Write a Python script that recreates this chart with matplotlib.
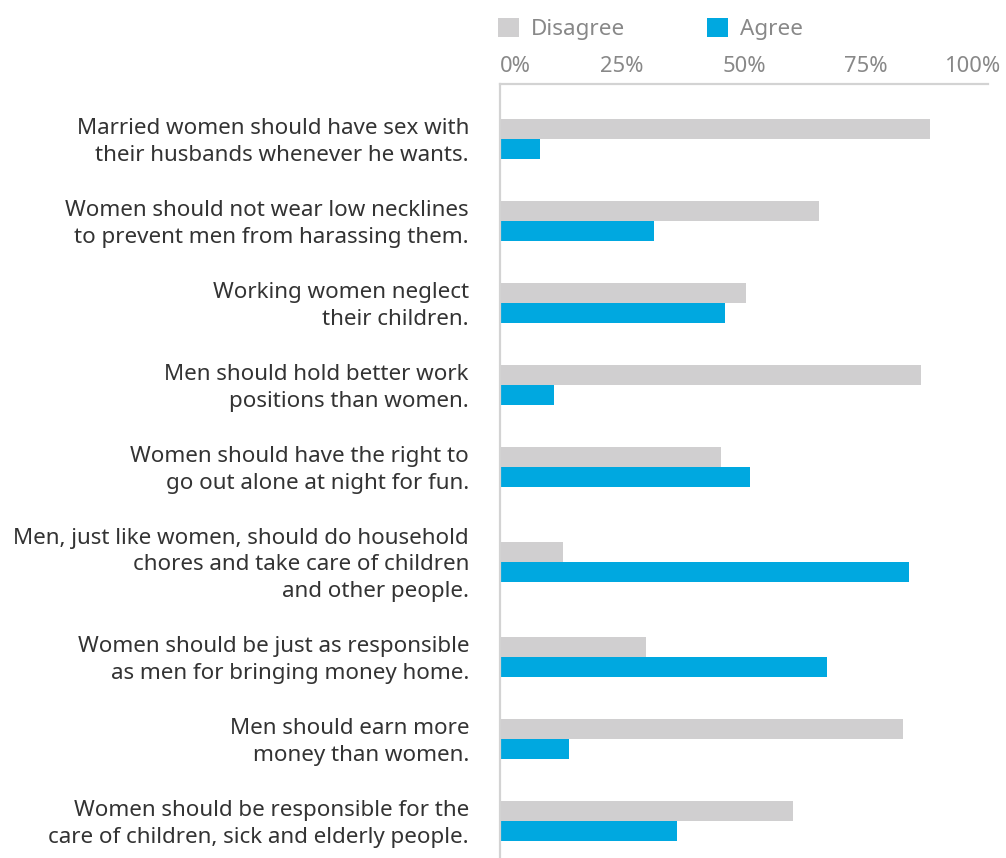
import matplotlib
matplotlib.use("Agg")
import matplotlib.pyplot as plt
from matplotlib.patches import Patch
import matplotlib.transforms as mtransforms

plt.rcParams['font.family'] = ['Noto Sans', 'DejaVu Sans']

categories = [
    "Married women should have sex with\ntheir husbands whenever he wants.",
    "Women should not wear low necklines\nto prevent men from harassing them.",
    "Working women neglect\ntheir children.",
    "Men should hold better work\npositions than women.",
    "Women should have the right to\ngo out alone at night for fun.",
    "Men, just like women, should do household\nchores and take care of children\nand other people.",
    "Women should be just as responsible\nas men for bringing money home.",
    "Men should earn more\nmoney than women.",
    "Women should be responsible for the\ncare of children, sick and elderly people.",
]
disagree = [88.1, 65.4, 50.4, 86.3, 45.3, 12.9, 29.9, 82.6, 60.0]
agree = [8.2, 31.6, 46.1, 11.1, 51.2, 83.8, 67.0, 14.1, 36.3]
xticks = [0, 25, 50, 75, 100]
xticklabels = ["0%", "25%", "50%", "75%", "100%"]
series_names = ["Disagree", "Agree"]

GREY = "#d0cfd0"
BLUE = "#00a8e0"
AXIS = "#d3d3d3"
TEXT = "#333333"
TICK = "#888888"

W, H = 1006, 858
fig = plt.figure(figsize=(W / 100, H / 100), dpi=100)
ax_top_px = 84
ax = fig.add_axes([500 / W, 0, 488 / W, (H - ax_top_px) / H])

# layout: row centers in pixel-like units, spacing depends on number of label lines
base_gap = 82
half_line = 13
centers = []
y = 55
for i, c in enumerate(categories):
    if i > 0:
        nprev = categories[i - 1].count("\n") + 1
        ncur = c.count("\n") + 1
        y += base_gap + (nprev + ncur - 4) * half_line
    centers.append(y)

bh = 20
ax.barh([c - bh / 2 for c in centers], disagree, height=bh, color=GREY, linewidth=0)
ax.barh([c + bh / 2 for c in centers], agree, height=bh, color=BLUE, linewidth=0)

ax.set_xlim(0, 100)
ax.set_ylim(H - ax_top_px, 0)

label_shift = mtransforms.ScaledTranslation(0, -3 / 100, fig.dpi_scale_trans)
for c, lab in zip(centers, categories):
    ax.text(-31 / 488, c, lab, transform=ax.get_yaxis_transform() + label_shift,
            ha='right', va='center', multialignment='right', fontsize=16.1,
            color=TEXT, linespacing=1.32)

ax.xaxis.tick_top()
ax.set_xticks(xticks)
ax.set_xticklabels(xticklabels)
ax.tick_params(axis='x', length=0, pad=5, labelsize=15.8, labelcolor=TICK)
ax.set_yticks([])
labels = ax.get_xticklabels()
labels[0].set_horizontalalignment('left')
labels[-1].set_horizontalalignment('right')
labels[-1].set_transform(labels[-1].get_transform() +
                         mtransforms.ScaledTranslation(13 / 100, 0, fig.dpi_scale_trans))

for s in ['right', 'bottom']:
    ax.spines[s].set_visible(False)
for s in ['left', 'top']:
    ax.spines[s].set_color(AXIS)
    ax.spines[s].set_linewidth(1.6)

handles = [Patch(facecolor=GREY, edgecolor='none'), Patch(facecolor=BLUE, edgecolor='none')]
fig.legend(handles, series_names, loc='upper left', bbox_to_anchor=(498 / W, 1 - 18 / H),
           ncol=2, frameon=False, fontsize=16.2, labelcolor=TICK,
           handlelength=0.95, handleheight=0.95, handletextpad=0.5, columnspacing=3.65,
           borderpad=0, borderaxespad=0)

fig.savefig("out.png", dpi=100)
